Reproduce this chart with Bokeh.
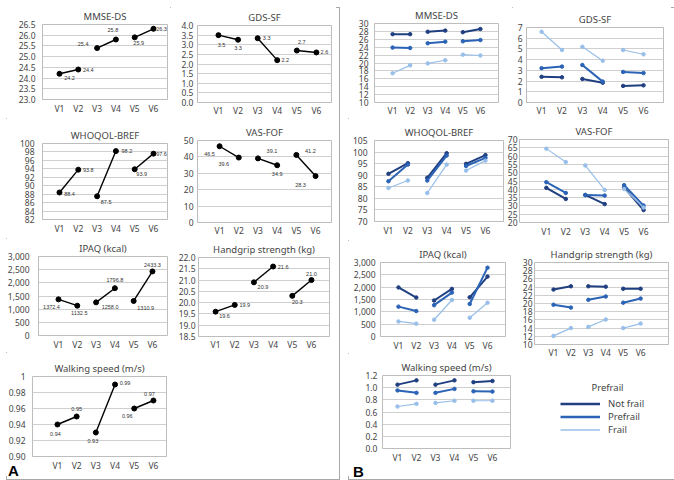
from bokeh.plotting import figure
from bokeh.models import (FixedTicker, Range1d, Legend, LegendItem, Div,
                          ColumnDataSource, NumeralTickFormatter)
from bokeh.embed import file_html
from bokeh.resources import INLINE

# ---------------- data ----------------
visits = [1, 2, 3, 4, 5, 6]
visit_labels = ["V1", "V2", "V3", "V4", "V5", "V6"]

# Panel A (overall means)
mmse_a = [24.2, 24.4, 25.4, 25.8, 25.9, 26.3]
gds_a = [3.5, 3.26, 3.34, 2.2, 2.7, 2.6]
whoqol_a = [88.4, 93.8, 87.5, 98.2, 93.9, 97.6]
vas_a = [46.5, 39.6, 39.1, 34.9, 41.2, 28.3]
ipaq_a = [1372.4, 1132.5, 1258.0, 1796.8, 1310.9, 2433.3]
grip_a = [19.6, 19.9, 20.9, 21.6, 20.3, 21.0]
walk_a = [0.94, 0.95, 0.93, 0.99, 0.96, 0.97]

# Panel B (by frailty group)
groups = ["Not frail", "Prefrail", "Frail"]
mmse_b = {"Not frail": [27.3, 27.3, 27.9, 28.2, 27.8, 28.6],
          "Prefrail": [23.9, 23.8, 25.0, 25.4, 25.5, 25.8],
          "Frail": [17.4, 19.4, 19.9, 20.7, 22.1, 21.9]}
gds_b = {"Not frail": [2.4, 2.35, 2.2, 1.85, 1.55, 1.6],
         "Prefrail": [3.2, 3.35, 3.5, 1.95, 2.85, 2.75],
         "Frail": [6.6, 4.9, 5.2, 3.9, 4.9, 4.5]}
whoqol_b = {"Not frail": [90.6, 95.2, 88.9, 99.5, 94.9, 98.7],
            "Prefrail": [87.4, 94.6, 87.7, 98.5, 94.0, 97.5],
            "Frail": [84.5, 87.7, 82.3, 94.6, 92.0, 96.3]}
vas_b = {"Not frail": [40.9, 34.2, 36.6, 31.1, 41.0, 27.5],
         "Prefrail": [44.3, 37.8, 36.5, 36.2, 42.5, 30.2],
         "Frail": [64.5, 56.4, 54.4, 39.6, 40.2, 29.0]}
ipaq_b = {"Not frail": [1990, 1580, 1460, 1930, 1590, 2430],
          "Prefrail": [1210, 1030, 1270, 1780, 1320, 2790],
          "Frail": [610, 520, 680, 1480, 760, 1370]}
grip_b = {"Not frail": [23.4, 24.2, 24.2, 24.1, 23.6, 23.6],
          "Prefrail": [19.7, 19.0, 20.9, 21.7, 20.2, 21.2],
          "Frail": [12.1, 14.0, 14.3, 16.1, 14.0, 15.1]}
walk_b = {"Not frail": [1.05, 1.12, 1.05, 1.12, 1.09, 1.11],
          "Prefrail": [0.955, 0.915, 0.915, 0.98, 0.94, 0.935],
          "Frail": [0.69, 0.735, 0.75, 0.785, 0.785, 0.785]}

# tick values
ticks_mmse_a = [23.0, 23.5, 24.0, 24.5, 25.0, 25.5, 26.0, 26.5]
ticks_gds_a = [0.0, 0.5, 1.0, 1.5, 2.0, 2.5, 3.0, 3.5, 4.0]
ticks_whoqol_a = [82, 84, 86, 88, 90, 92, 94, 96, 98, 100]
ticks_vas_a = [0, 10, 20, 30, 40, 50]
ticks_ipaq = [0, 500, 1000, 1500, 2000, 2500, 3000]
ticks_grip_a = [18.5, 19.0, 19.5, 20.0, 20.5, 21.0, 21.5, 22.0]
ticks_walk_a = [0.90, 0.92, 0.94, 0.96, 0.98, 1.00]
ticks_mmse_b = [10, 12, 14, 16, 18, 20, 22, 24, 26, 28, 30]
ticks_gds_b = [0, 1, 2, 3, 4, 5, 6, 7]
ticks_whoqol_b = [70, 75, 80, 85, 90, 95, 100, 105]
ticks_vas_b = [20, 25, 30, 35, 40, 45, 50, 55, 60, 65, 70]
ticks_grip_b = [10, 12, 14, 16, 18, 20, 22, 24, 26, 28, 30]
ticks_walk_b = [0.0, 0.2, 0.4, 0.6, 0.8, 1.0, 1.2]

# ---------------- styling ----------------
FONT = "Noto Sans"
TXT = "#454545"
GRID = "#cfcfcf"
OUTLINE = "#bdbdbd"
COLORS = {"Not frail": "#1f3f80", "Prefrail": "#2b63b6", "Frail": "#98bfe9"}
WIDTHS = {"Not frail": 2.0, "Prefrail": 2.0, "Frail": 1.2}


def place(left, top, extra=None):
    s = {"position": "absolute", "left": f"{left}px", "top": f"{top}px"}
    if extra:
        s.update(extra)
    return s


def base_fig(pos, size, borders, title, xr, yticks, yfmt, ystand, xstand):
    w, h = size
    l, r, t, b = borders
    p = figure(width=w, height=h, x_range=Range1d(*xr),
               y_range=Range1d(yticks[0], yticks[-1]),
               output_backend="svg", toolbar_location=None,
               min_border_left=l, min_border_right=r,
               min_border_top=t, min_border_bottom=b,
               styles=place(*pos))
    p.title.text = title
    p.title.align = "center"
    p.title.text_font = FONT
    p.title.text_font_size = "9.5px"
    p.title.text_font_style = "normal"
    p.title.text_color = TXT
    p.title.standoff = 3
    p.xaxis.ticker = FixedTicker(ticks=visits)
    p.xaxis.major_label_overrides = dict(zip(visits, visit_labels))
    p.yaxis.ticker = FixedTicker(ticks=yticks)
    p.yaxis.formatter = NumeralTickFormatter(format=yfmt)
    for ax in (p.xaxis[0], p.yaxis[0]):
        ax.axis_line_color = None
        ax.major_tick_line_color = None
        ax.minor_tick_line_color = None
        ax.major_tick_out = 0
        ax.major_tick_in = 0
        ax.minor_tick_out = 0
        ax.minor_tick_in = 0
        ax.major_label_text_font = FONT
        ax.major_label_text_font_size = "8.5px"
        ax.major_label_text_color = TXT
    p.xaxis.major_label_standoff = xstand
    p.yaxis.major_label_standoff = ystand
    p.xgrid.visible = False
    p.ygrid.grid_line_color = GRID
    p.outline_line_color = OUTLINE
    return p


def draw_single(p, vals, fmt, offsets):
    xs = [visits[i:i + 2] for i in (0, 2, 4)]
    ys = [vals[i:i + 2] for i in (0, 2, 4)]
    p.multi_line(xs=xs, ys=ys, line_color="black", line_width=1.4)
    p.scatter(x=visits, y=vals, size=5, color="black")
    src = ColumnDataSource(dict(x=visits, y=vals, t=[fmt % v for v in vals],
                                dx=[o[0] for o in offsets], dy=[o[1] for o in offsets]))
    p.text(x="x", y="y", text="t", x_offset="dx", y_offset="dy", source=src,
           text_font_size="5.5px", text_color="#333333", text_align="center",
           text_baseline="middle")


def draw_groups(p, data):
    for g in groups:
        vals = data[g]
        xs = [visits[i:i + 2] for i in (0, 2, 4)]
        ys = [vals[i:i + 2] for i in (0, 2, 4)]
        p.multi_line(xs=xs, ys=ys, line_color=COLORS[g], line_width=WIDTHS[g])
        p.scatter(x=visits, y=vals, size=3.5, color=COLORS[g])


roots = []

# panel frames
roots.append(Div(text="", width=334, height=473,
                 styles=place(1, 2, {"border": "1px solid #a8a8a8"})))
roots.append(Div(text="", width=327, height=473,
                 styles=place(343, 2, {"border": "1px solid #a8a8a8"})))

# ---------------- panel A ----------------
fa1 = base_fig((2, 3), (168, 115), (40, 3, 21, 19), "MMSE-DS", (0.096, 6.745), ticks_mmse_a, "0.0", 7, 3)
draw_single(fa1, mmse_a, "%.1f", [(10, 4), (10, 0), (-14, -4), (-3, -10), (4, 6), (8, 0)])

fa2 = base_fig((170, 3), (166, 115), (27, 5, 22, 15), "GDS-SF", (-0.07, 6.77), ticks_gds_a, "0.0", 4, 2)
draw_single(fa2, gds_a, "%.1f", [(3, 10), (0, 8), (9, 0), (8, 0), (5, -9), (8, 0)])

fa3 = base_fig((2, 118), (168, 120), (40, 3, 25, 19), "WHOQOL-BREF", (0.096, 6.745), ticks_whoqol_a, "0", 8, 3)
draw_single(fa3, whoqol_a, "%.1f", [(10, 2), (10, 0), (9, 6), (11, 0), (7, 5), (8, 0)])

fa4 = base_fig((170, 118), (166, 120), (27, 5, 22, 14), "VAS-FOF", (-0.15, 6.83), ticks_vas_a, "0", 4, 2)
draw_single(fa4, vas_a, "%.1f", [(-10, 8), (-15, 6), (14, -7), (0, 9), (14, -4), (-15, 9)])

fa5 = base_fig((2, 238), (168, 114), (36, 3, 18, 16), "IPAQ (kcal)", (-0.064, 6.8), ticks_ipaq, "0,0", 9, 3)
draw_single(fa5, ipaq_a, "%.1f", [(-7, 8), (2, 7), (14, 5), (0, -8), (12, 7), (0, -6)])

fa6 = base_fig((170, 238), (166, 114), (28, 7, 19, 16), "Handgrip strength (kg)", (0.11, 6.94), ticks_grip_a, "0.0", 3, 2)
draw_single(fa6, grip_a, "%.1f", [(9, 4), (10, 0), (9, 5), (10, 0), (5, 6), (0, -6)])

fa7 = base_fig((2, 352), (168, 124), (30, 4, 24, 20), "Walking speed (m/s)", (-0.30, 6.68), ticks_walk_a, "0.00", 7, 3)
fa7.yaxis.major_label_overrides = {1.0: "1"}
draw_single(fa7, walk_a, "%.2f", [(-2, 9), (0, -8), (-3, 8), (10, -2), (-7, 7), (-4, -7)])

# ---------------- panel B ----------------
fb1 = base_fig((344, 3), (168, 115), (30, 14, 20, 16), "MMSE-DS", (-0.03, 7.03), ticks_mmse_b, "0", 6, 2)
draw_groups(fb1, mmse_b)
fb2 = base_fig((512, 3), (159, 115), (14, 8, 24, 15), "GDS-SF", (0.26, 6.98), ticks_gds_b, "0", 4, 2)
draw_groups(fb2, gds_b)
fb3 = base_fig((344, 118), (160, 122), (30, 1, 22, 19), "WHOQOL-BREF", (0.28, 6.93), ticks_whoqol_b, "0", 7, 3)
draw_groups(fb3, whoqol_b)
fb4 = base_fig((504, 118), (167, 122), (14, 3, 21, 18), "VAS-FOF", (-0.38, 7.28), ticks_vas_b, "0", 2, 3)
draw_groups(fb4, vas_b)
fb5 = base_fig((344, 240), (168, 113), (36, 7, 22, 15), "IPAQ (kcal)", (-0.01, 7.01), ticks_ipaq, "0,0", 5, 3)
draw_groups(fb5, ipaq_b)
fb6 = base_fig((512, 240), (159, 120), (22, 3, 22, 14), "Handgrip strength (kg)", (-0.09, 7.6), ticks_grip_b, "0", 2, 2)
draw_groups(fb6, grip_b)
fb7 = base_fig((344, 353), (168, 123), (38, 2, 22, 28), "Walking speed (m/s)", (0.21, 6.95), ticks_walk_b, "0.0", 5, 3)
draw_groups(fb7, walk_b)

# legend figure
lg = figure(width=159, height=116, output_backend="svg", toolbar_location=None,
            x_range=Range1d(0, 7), y_range=Range1d(0, 2),
            x_axis_location=None, y_axis_location=None,
            min_border_left=0, min_border_right=0, min_border_top=35, min_border_bottom=0,
            styles=place(512, 360))
lg.grid.visible = False
lg.outline_line_color = None
lg.title.text = "Prefrail"
lg.title.align = "left"
lg.title.offset = 79
lg.title.text_font = FONT
lg.title.text_font_size = "9.5px"
lg.title.text_font_style = "normal"
lg.title.text_color = TXT
lg.title.standoff = 4
items = []
for g in groups:
    rl = lg.line(x=visits, y=walk_b[g], line_color=COLORS[g], line_width=WIDTHS[g] + 0.5,
                 visible=False)
    items.append(LegendItem(label=g, renderers=[rl]))
legend = Legend(items=items, location=(48, 40), glyph_width=40, glyph_height=13,
                spacing=0, padding=0, margin=0, label_standoff=8,
                label_text_font=FONT, label_text_font_size="9.5px", label_text_color=TXT,
                border_line_color=None, background_fill_alpha=0)
lg.add_layout(legend, "center")

roots += [fa1, fa2, fa3, fa4, fa5, fa6, fa7, fb1, fb2, fb3, fb4, fb5, fb6, fb7, lg]

# panel letters
letter_style = {"font-family": "Liberation Sans", "font-size": "15px",
                "font-weight": "bold", "line-height": "18px", "color": "black",
                "overflow": "visible"}
roots.append(Div(text="A", width=16, height=18, styles=place(3, 457, letter_style)))
roots.append(Div(text="B", width=16, height=18, styles=place(348, 458, letter_style)))

open("out.html", "w").write(file_html(roots, INLINE))
